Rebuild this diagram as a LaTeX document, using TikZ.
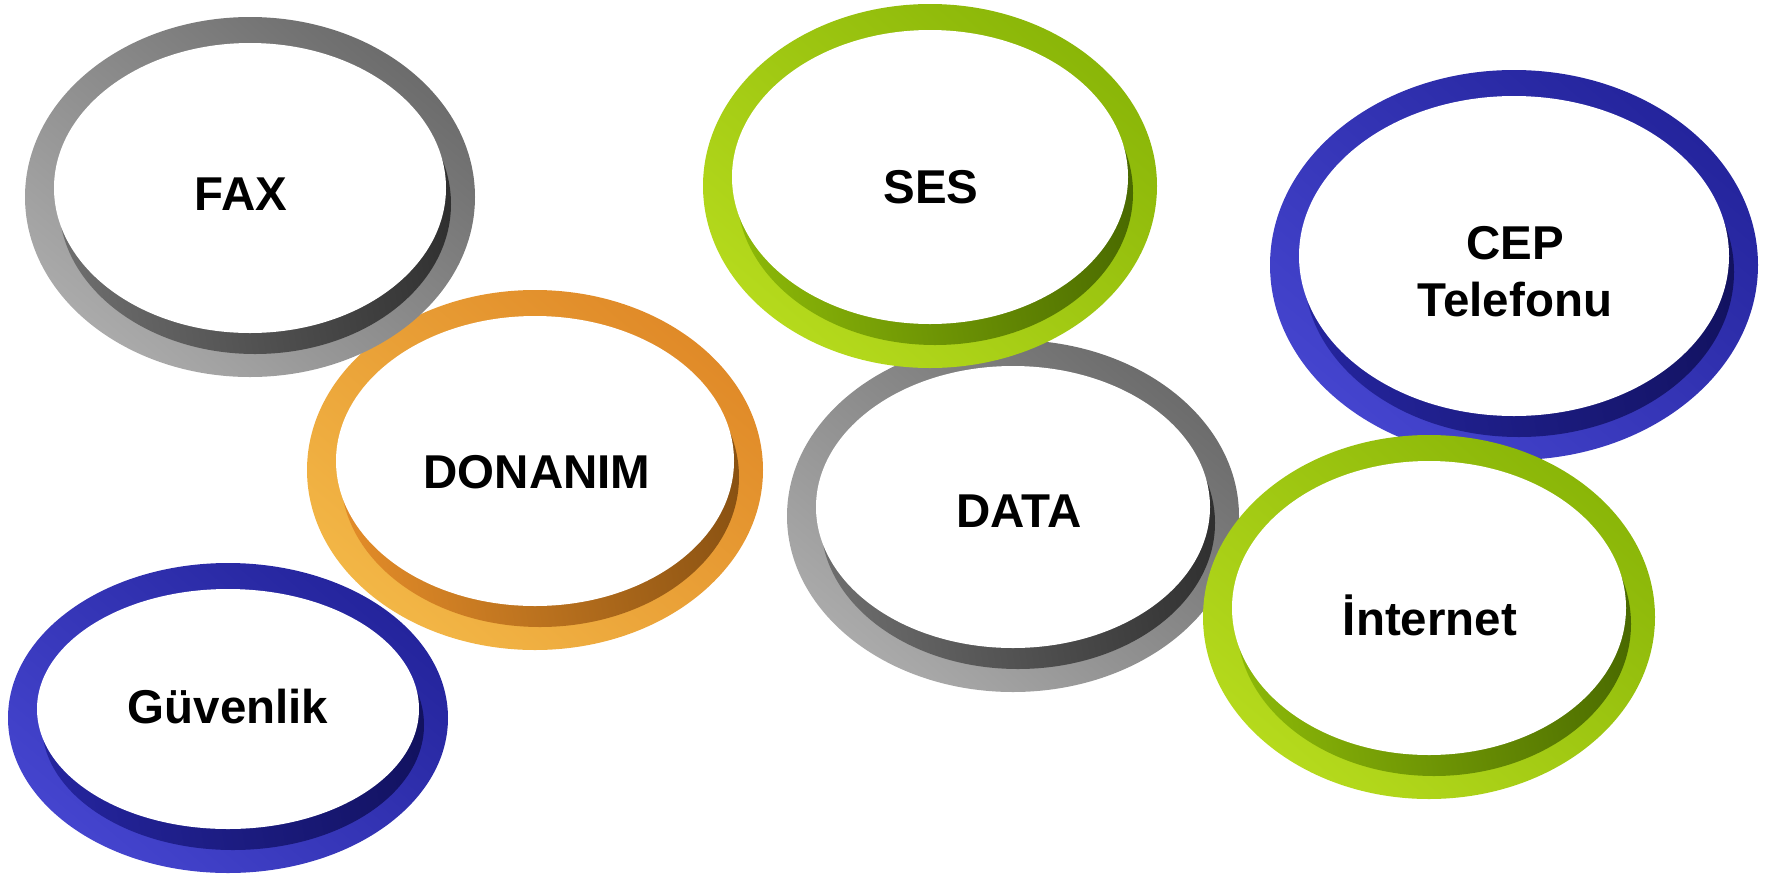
\documentclass[tikz,border=0pt]{standalone}
\usepackage{fontspec}
\setmainfont{Liberation Sans}
\usepackage{tikz}
\definecolor{grylt}{HTML}{D4D4D4}
\definecolor{grymd}{HTML}{6C6C6C}
\definecolor{grydk}{HTML}{303030}
\definecolor{grnlt}{HTML}{D2F22A}
\definecolor{grnmd}{HTML}{8AB608}
\definecolor{grndk}{HTML}{4A6A00}
\definecolor{blult}{HTML}{5A5AF0}
\definecolor{blumd}{HTML}{24249C}
\definecolor{bludk}{HTML}{121260}
\definecolor{orglt}{HTML}{FFD45A}
\definecolor{orgmd}{HTML}{E08A28}
\definecolor{orgdk}{HTML}{8A5212}
% ring: centre x, centre y, x radius, y radius, colour prefix
\newcommand*{\ring}[5]{%
    \shade [top color=#5md, middle color=#5md, bottom color=#5lt!60!#5md, shading angle=-40] (#1,#2) ellipse [x radius=#3, y radius=#4];
    \shade [left color=#5md, right color=#5dk, shading angle=100] (#1+5,#2+7) ellipse [x radius=#3-29, y radius=#4-30];
    \fill [white] (#1,#2-9) ellipse [x radius=#3-29, y radius=#4-35];
}

\begin{document}
\begin{tikzpicture}[x=0.01cm, y=-0.01cm, font=\fontsize{13.5}{16.2}\selectfont\bfseries,
    lbl/.style={anchor=base, inner sep=0pt}]
    \useasboundingbox (0,0) rectangle (1775,878);
        \ring{535}{470}{228}{180}{org}
        \ring{250}{197}{225}{180}{gry}
        \ring{1013}{516}{226}{176}{gry}
        \ring{930}{186}{227}{182}{grn}
        \ring{1514}{265}{244}{195}{blu}
        \ring{1429}{617}{226}{182}{grn}
        \ring{228}{718}{220}{155}{blu}
        \node [lbl] (fax) at (241,210) {FAX};
        \node [lbl] (ses) at (931,203) {SES};
        \node [inner sep=0pt, align=center] (cep) at (1515,272) {CEP\\Telefonu};
        \node [lbl] (donanim) at (537,488) {DONANIM};
        \node [lbl] (data) at (1019,527) {DATA};
        \node [lbl] (internet) at (1430,635) {İnternet};
        \node [lbl] (guvenlik) at (228,723) {Güvenlik};
    \end{tikzpicture}
\end{document}
